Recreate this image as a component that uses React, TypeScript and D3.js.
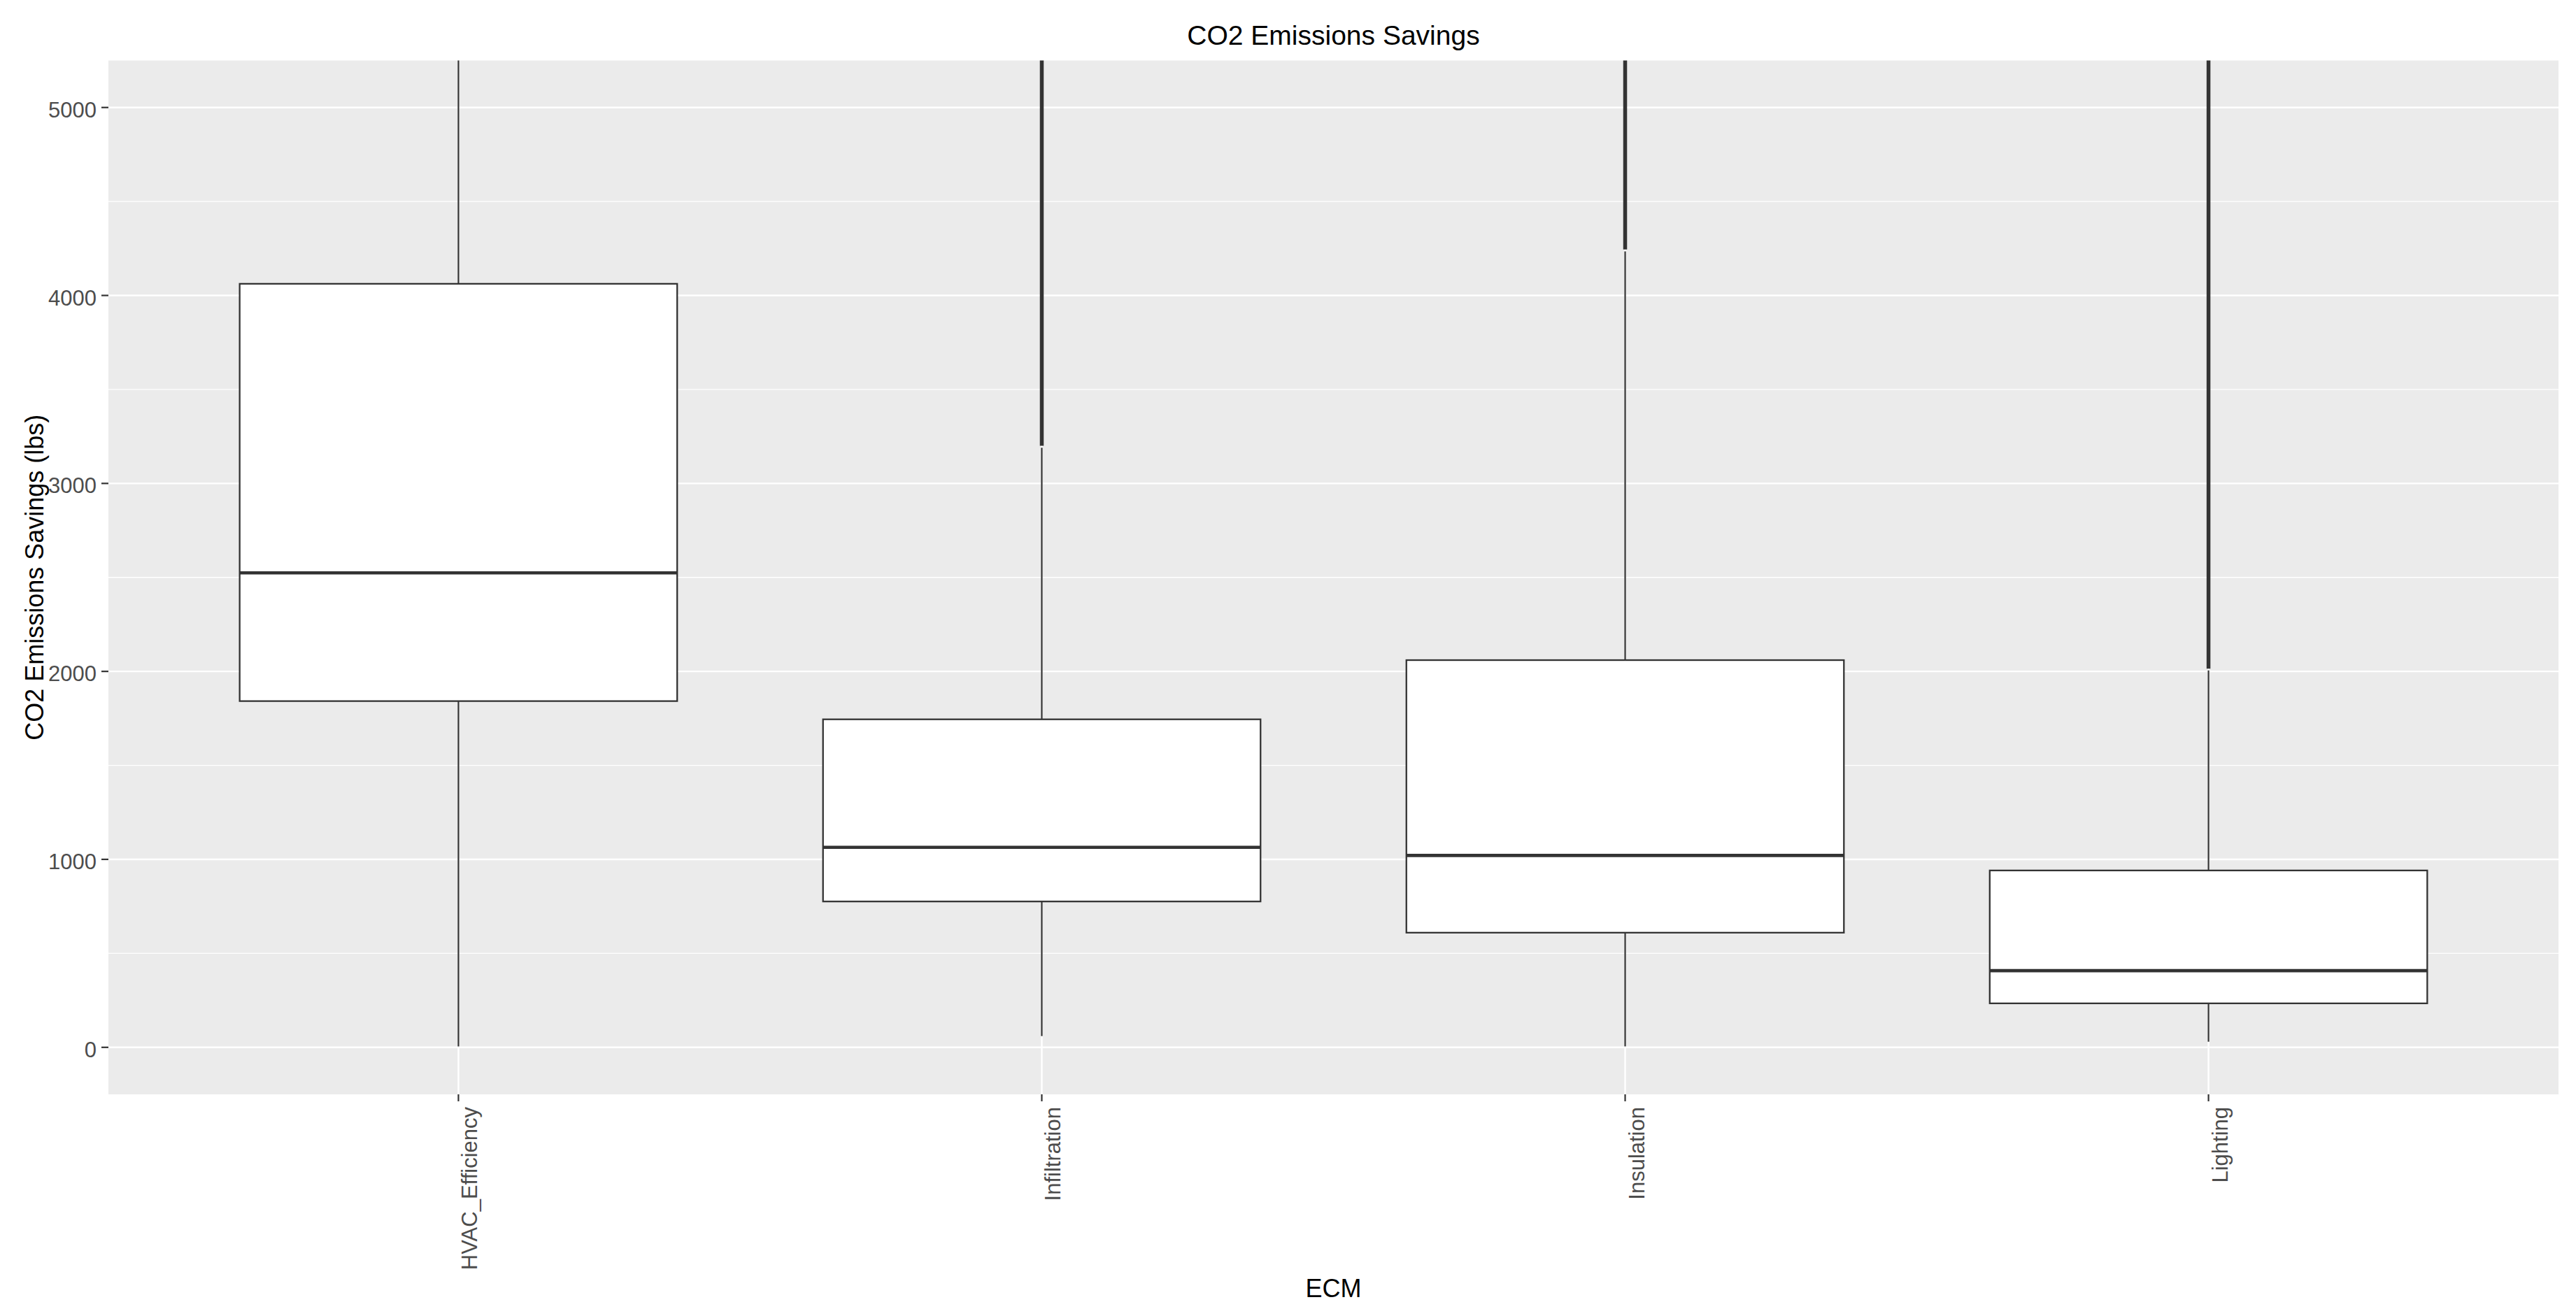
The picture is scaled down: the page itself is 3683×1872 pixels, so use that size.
import React from "react";
import * as d3 from "d3";

const categories = ["HVAC_Efficiency", "Infiltration", "Insulation", "Lighting"];
const whiskerLow = [5, 60, 5, 30];
const q1 = [1842, 776, 610, 234];
const median = [2524, 1064, 1021, 408];
const q3 = [4062, 1745, 2060, 941];
const whiskerHigh = [7300, 3190, 4234, 2005];
// outliers are a dense column of overlapping points: lowest and highest outlier values
const outlierLow = [NaN, 3200, 4245, 2015];
const outlierHigh = [NaN, 9000, 9000, 9000];
const yTicks = [0, 1000, 2000, 3000, 4000, 5000];
const yMinor = [500, 1500, 2500, 3500, 4500];

const W = 3683;
const H = 1872;
const panel = { left: 155, right: 3658, top: 86.5, bottom: 1565 };
const FONT = "'Liberation Sans', Arial, Helvetica, sans-serif";

export default function App() {
  const x = d3
    .scalePoint<string>()
    .domain(categories)
    .range([panel.left, panel.right])
    .padding(0.6);
  const y = d3.scaleLinear().domain([-250, 5250]).range([panel.bottom, panel.top]);
  const step = x.step();
  const bw = step * 0.75;

  return (
    <svg
      width={W}
      height={H}
      style={{ position: "absolute", left: 0, top: 0, display: "block", background: "#fff" }}
    >
      <defs>
        <clipPath id="pc">
          <rect x={panel.left} y={panel.top} width={panel.right - panel.left} height={panel.bottom - panel.top} />
        </clipPath>
      </defs>
      <rect x={0} y={0} width={W} height={H} fill="#fff" />
      <rect
        x={panel.left}
        y={panel.top}
        width={panel.right - panel.left}
        height={panel.bottom - panel.top}
        fill="#EBEBEB"
      />
      <g clipPath="url(#pc)">
        {yMinor.map((t) => (
          <line key={"mn" + t} x1={panel.left} x2={panel.right} y1={y(t)} y2={y(t)} stroke="#fff" strokeWidth={1.3} />
        ))}
        {yTicks.map((t) => (
          <line key={"mj" + t} x1={panel.left} x2={panel.right} y1={y(t)} y2={y(t)} stroke="#fff" strokeWidth={2.4} />
        ))}
        {categories.map((c) => (
          <line key={"vg" + c} x1={x(c)} x2={x(c)} y1={panel.top} y2={panel.bottom} stroke="#fff" strokeWidth={2.4} />
        ))}
        {categories.map((c, i) => {
          const cx = x(c) as number;
          return (
            <g key={"bx" + c}>
              <line x1={cx} x2={cx} y1={y(q3[i])} y2={y(whiskerHigh[i])} stroke="#333333" strokeWidth={2.2} />
              <line x1={cx} x2={cx} y1={y(q1[i])} y2={y(whiskerLow[i])} stroke="#333333" strokeWidth={2.2} />
              {!isNaN(outlierLow[i]) && (
                <line
                  x1={cx}
                  x2={cx}
                  y1={y(outlierLow[i])}
                  y2={y(outlierHigh[i])}
                  stroke="#333333"
                  strokeWidth={5.5}
                />
              )}
              <rect
                x={cx - bw / 2}
                y={y(q3[i])}
                width={bw}
                height={y(q1[i]) - y(q3[i])}
                fill="#fff"
                stroke="#333333"
                strokeWidth={2.3}
              />
              <line
                x1={cx - bw / 2}
                x2={cx + bw / 2}
                y1={y(median[i])}
                y2={y(median[i])}
                stroke="#333333"
                strokeWidth={4.6}
              />
            </g>
          );
        })}
      </g>
      {yTicks.map((t) => (
        <g key={"yt" + t}>
          <line x1={panel.left - 10} x2={panel.left} y1={y(t)} y2={y(t)} stroke="#333333" strokeWidth={2.2} />
          <text
            x={panel.left - 17}
            y={y(t) + 14}
            textAnchor="end"
            fontFamily={FONT}
            fontSize={31}
            fill="#4D4D4D"
          >
            {t}
          </text>
        </g>
      ))}
      {categories.map((c) => {
        const cx = x(c) as number;
        return (
          <g key={"xt" + c}>
            <line x1={cx} x2={cx} y1={panel.bottom} y2={panel.bottom + 10} stroke="#333333" strokeWidth={2.2} />
            <text
              transform={`translate(${cx + 27},${panel.bottom + 18}) rotate(-90)`}
              textAnchor="end"
              fontFamily={FONT}
              fontSize={31}
              fill="#4D4D4D"
            >
              {c}
            </text>
          </g>
        );
      })}
      <text
        x={(panel.left + panel.right) / 2}
        y={64}
        textAnchor="middle"
        fontFamily={FONT}
        fontSize={39}
        fill="#000"
      >
        CO2 Emissions Savings
      </text>
      <text
        x={(panel.left + panel.right) / 2}
        y={1855}
        textAnchor="middle"
        fontFamily={FONT}
        fontSize={36}
        fill="#000"
      >
        ECM
      </text>
      <text
        transform={`translate(62,${(panel.top + panel.bottom) / 2}) rotate(-90)`}
        textAnchor="middle"
        fontFamily={FONT}
        fontSize={36}
        fill="#000"
      >
        CO2 Emissions Savings (lbs)
      </text>
    </svg>
  );
}
